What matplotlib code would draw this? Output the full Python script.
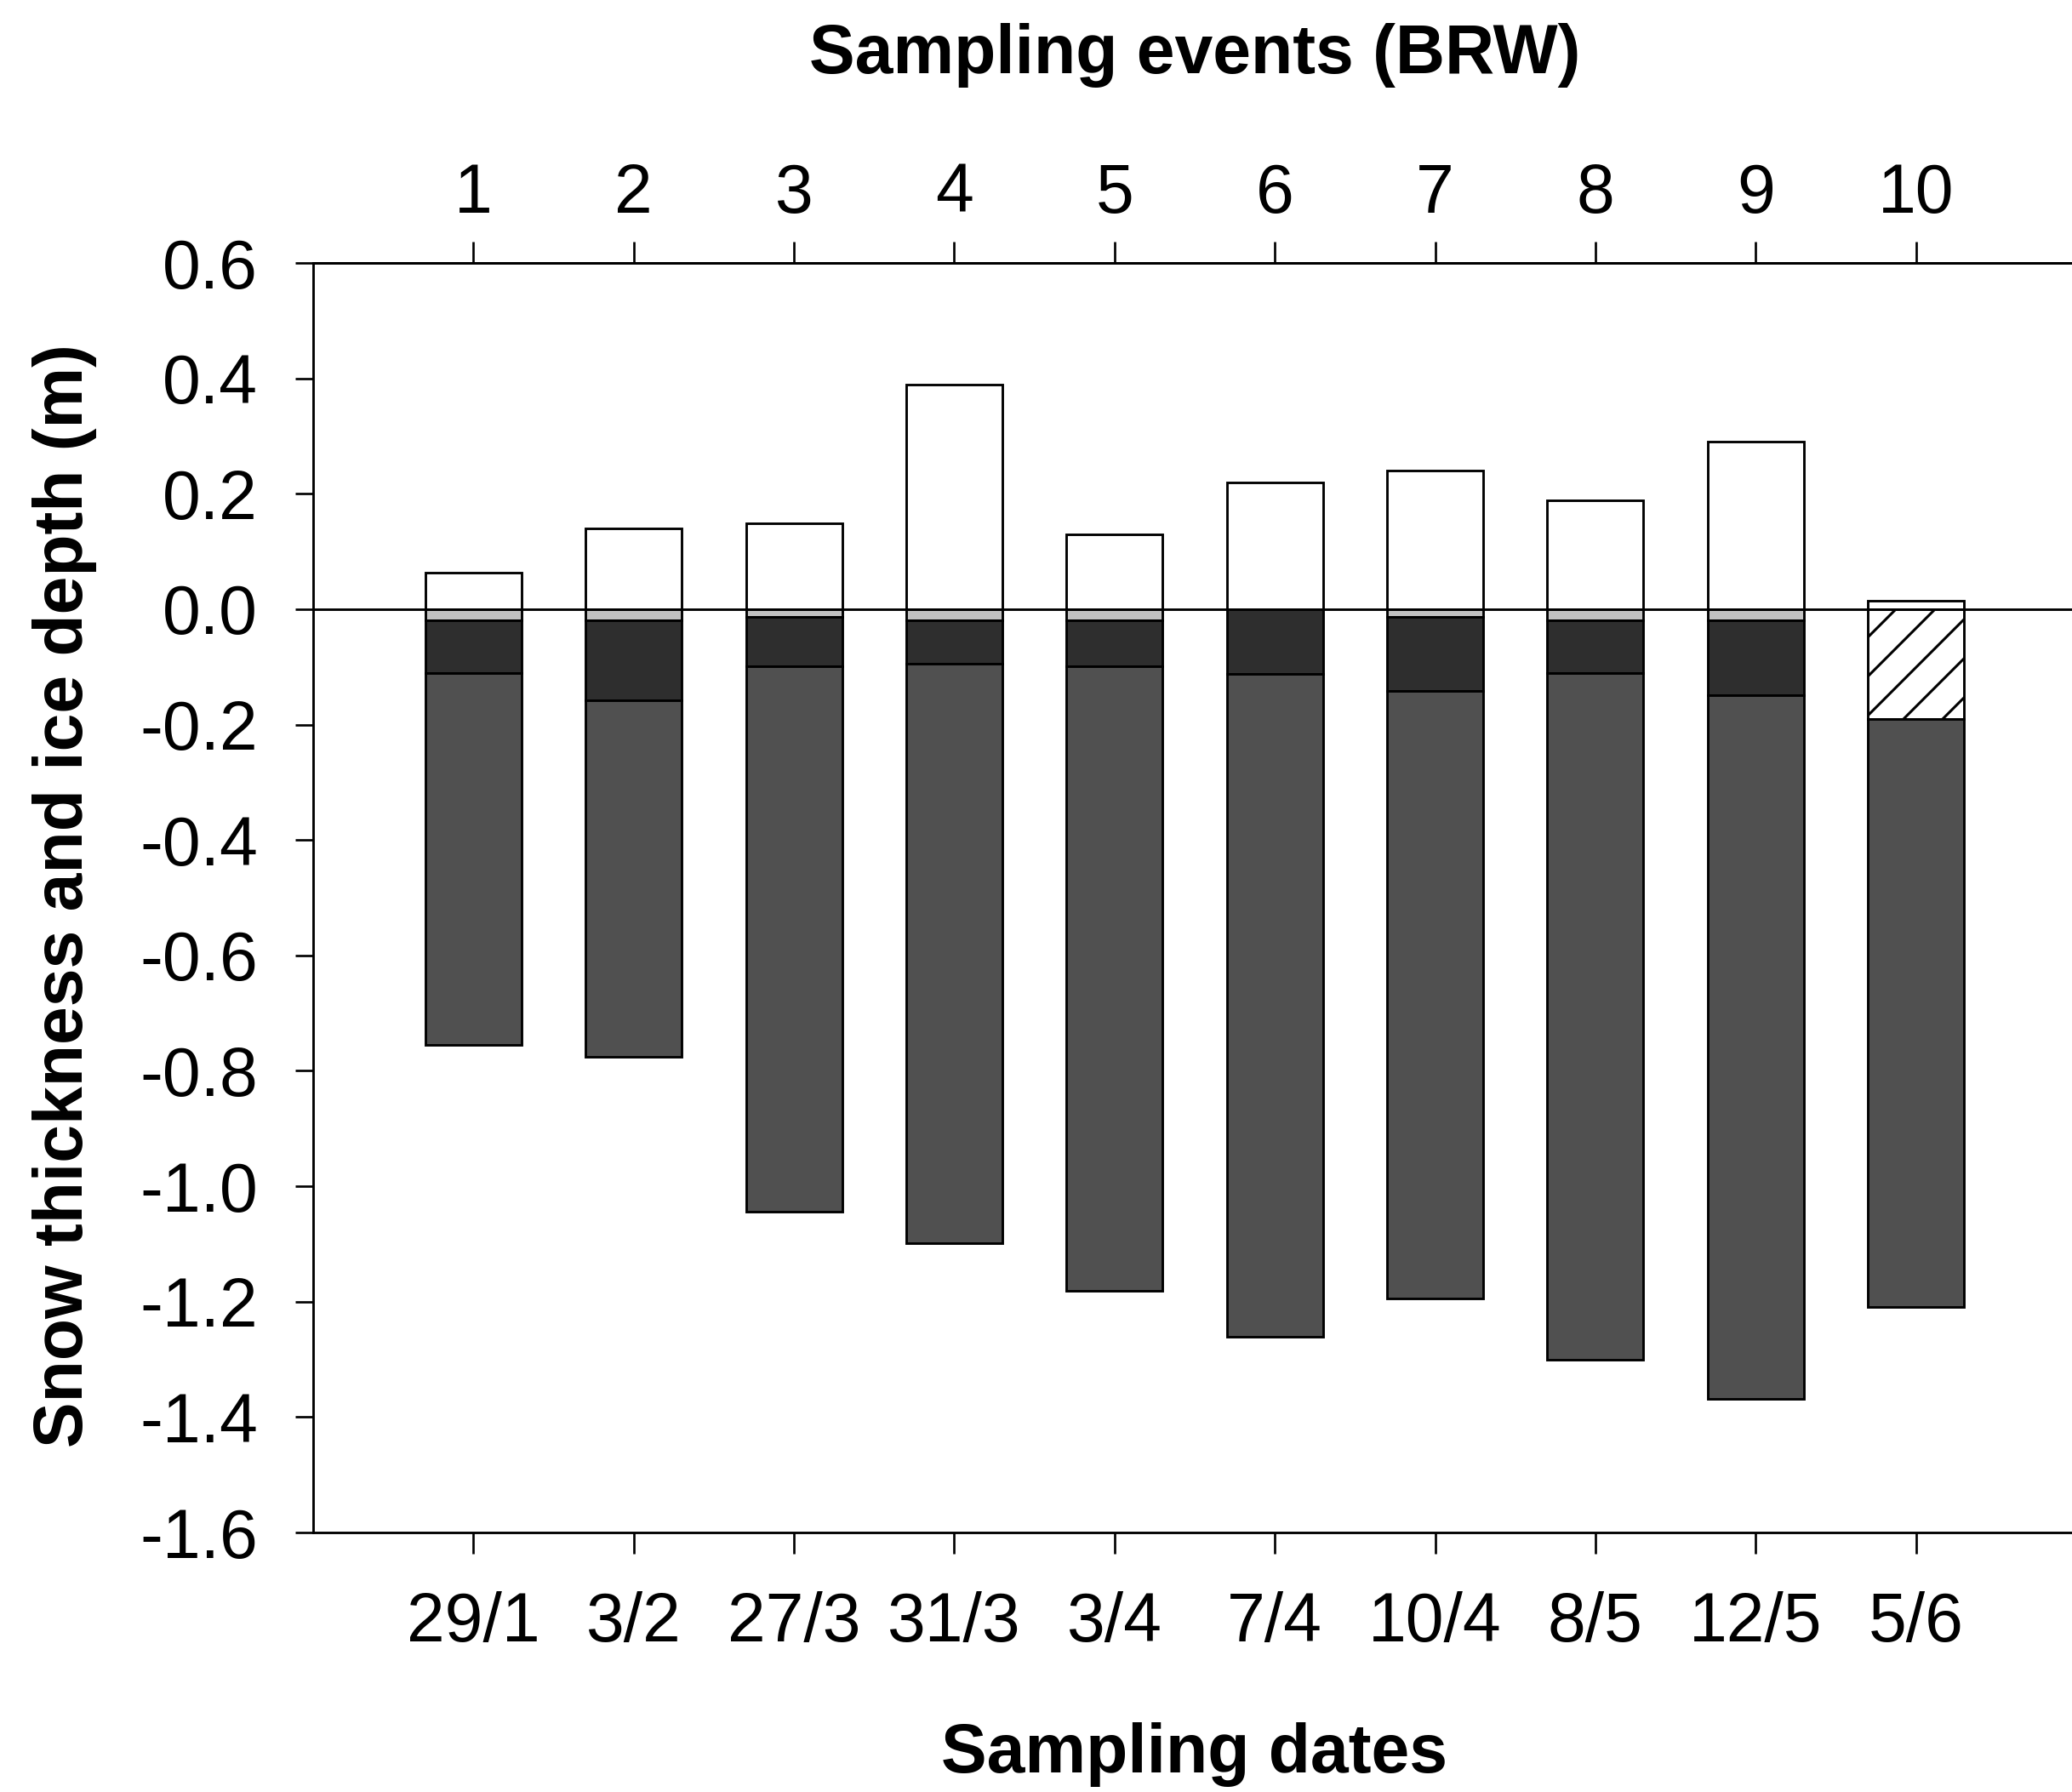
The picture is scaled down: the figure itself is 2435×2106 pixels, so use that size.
import matplotlib
matplotlib.use("Agg")
import matplotlib.pyplot as plt
import numpy as np

plt.rcParams['font.family'] = ['Liberation Sans', 'DejaVu Sans']
plt.rcParams['hatch.linewidth'] = 0.8

# sampling events and dates
events = [1, 2, 3, 4, 5, 6, 7, 8, 9, 10]
dates = ['29/1', '3/2', '27/3', '31/3', '3/4', '7/4', '10/4', '8/5', '12/5', '5/6']

# snow thickness above 0 (m)
snow = [0.064, 0.14, 0.149, 0.389, 0.13, 0.22, 0.24, 0.188, 0.29, 0.014]
# light grey layer just below 0 (bottom depth, m)
grey_bottom = [-0.02, -0.02, -0.013, -0.02, -0.02, 0.0, -0.013, -0.02, -0.02, 0.0]
# dark upper ice layer (bottom depth, m)
dark_bottom = [-0.11, -0.158, -0.099, -0.095, -0.099, -0.112, -0.141, -0.11, -0.149, 0.0]
# hatched layer (only last event)
hatch_bottom = [0, 0, 0, 0, 0, 0, 0, 0, 0, -0.19]
# ice bottom (m)
ice_bottom = [-0.755, -0.776, -1.044, -1.099, -1.181, -1.261, -1.195, -1.300, -1.369, -1.209]

y_ticks = [0.6, 0.4, 0.2, 0.0, -0.2, -0.4, -0.6, -0.8, -1.0, -1.2, -1.4, -1.6]

DPI = 276
fig = plt.figure(figsize=(2435 / DPI, 2106 / DPI), dpi=DPI)
ax = fig.add_axes([368 / 2435, 1 - 1801 / 2106, (2440 - 368) / 2435, (1801 - 309) / 2106])

x = np.array(events)
w = 0.6
lw = 0.75


def layer(top, bottom, color, hatch=None):
    top = np.array(top, dtype=float)
    bottom = np.array(bottom, dtype=float)
    m = (top - bottom) > 1e-9
    ax.bar(x[m], (top - bottom)[m], bottom=bottom[m], width=w, color=color,
           edgecolor='black', linewidth=lw, hatch=hatch, zorder=2)


zeros = np.zeros(len(events))
layer(snow, zeros, 'white')
layer(zeros, grey_bottom, '#c2c2c2')
layer(grey_bottom, dark_bottom, '#2e2e2e')
layer(zeros, hatch_bottom, 'white', hatch='//')
mid_top = np.minimum(dark_bottom, hatch_bottom)
layer(mid_top, ice_bottom, '#505050')

ax.axhline(0, color='black', linewidth=0.75, zorder=3)

ax.set_xlim(0, 11)
ax.set_ylim(-1.6, 0.6)
ax.set_xticks(events)
ax.set_xticklabels(dates)
ax.set_yticks(y_ticks)
ax.set_yticklabels(['%.1f' % v for v in y_ticks])
ax.spines['right'].set_visible(False)
for s in ['left', 'top', 'bottom']:
    ax.spines[s].set_linewidth(0.75)
ax.tick_params(axis='x', direction='out', length=6.5, width=0.7, pad=11.5, labelsize=21)
ax.tick_params(axis='y', direction='out', length=5.5, width=0.7, pad=11.5, labelsize=21)

top = ax.secondary_xaxis('top')
top.set_xticks(events)
top.set_xticklabels([str(e) for e in events])
top.spines['top'].set_linewidth(0.75)
top.tick_params(axis='x', direction='out', length=6.5, width=0.7, pad=4.5, labelsize=21)

xc = (368 + 2440) / 2 / 2435
fig.text(xc, 1 - 86 / 2106, 'Sampling events (BRW)', fontsize=21, fontweight='bold',
         ha='center', va='baseline')
fig.text(xc, 1 - 2083 / 2106, 'Sampling dates', fontsize=21, fontweight='bold',
         ha='center', va='baseline')
fig.text(97 / 2435, 1 - 1053 / 2106, 'Snow thickness and ice depth (m)', fontsize=21,
         fontweight='bold', rotation=90, rotation_mode='anchor', ha='center', va='baseline')

fig.savefig('out.png', dpi=DPI, facecolor='white')
